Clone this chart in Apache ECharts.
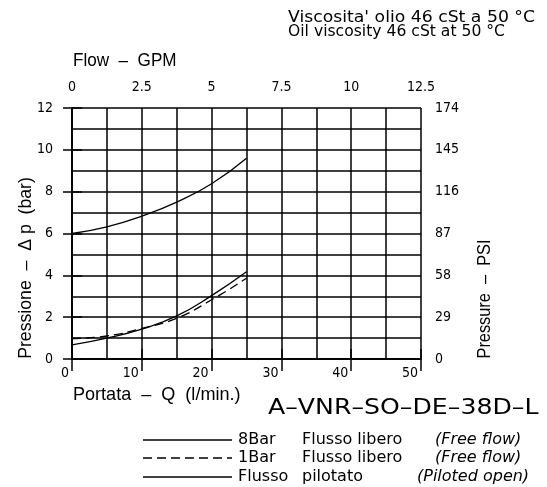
<!DOCTYPE html>
<html><head><meta charset="utf-8">
<script src="https://cdn.jsdelivr.net/npm/echarts@6/dist/echarts.min.js"></script>
<style>html,body{margin:0;padding:0;background:#fff}#c{width:547px;height:487px}</style>
</head><body><div id="c"></div>
<script>
const flowLpm = [0, 5, 10, 15, 20, 25];
const free8Bar = [6.0, 6.32, 6.83, 7.5, 8.38, 9.6];
const free1Bar = [0.98, 1.1, 1.46, 1.95, 2.83, 3.86];
const piloted = [0.68, 1.0, 1.43, 2.06, 3.03, 4.17];
const gpmTicks = [0, 2.5, 5, 7.5, 10, 12.5];
const psiTicks = [0, 29, 58, 87, 116, 145, 174];

const numFont = '"DejaVu Sans Condensed", sans-serif';
const txtFont = '"DejaVu Sans", sans-serif';
const labFont = '"Liberation Sans", sans-serif';
const pair = (xs, ys) => xs.map((x, i) => [x, ys[i]]);
const lineCol = '#000';
const chart = echarts.init(document.getElementById('c'), null, {renderer: 'canvas'});
const gridLine = {show: true, lineStyle: {color: lineCol, width: 1.5}};
const T = (o) => Object.assign({type: 'text'}, o);
chart.setOption({
  animation: false,
  backgroundColor: '#fff',
  grid: {left: 72, right: 126, top: 108, bottom: 128},
  xAxis: [
    {type: 'value', position: 'bottom', min: 0, max: 50, interval: 10,
     axisLine: {show: true, lineStyle: {color: lineCol, width: 1.5}},
     axisTick: {show: true, length: 12, lineStyle: {color: lineCol, width: 1.5}},
     splitLine: gridLine,
     minorTick: {show: false, splitNumber: 2},
     minorSplitLine: {show: true, lineStyle: {color: lineCol, width: 1.5}},
     axisLabel: {color: '#000', fontFamily: numFont, fontSize: 14, align: 'right', padding: [0, 3, 0, 0], margin: 7}},
    {type: 'value', position: 'top', min: 0, max: 12.5, interval: 2.5,
     axisLine: {show: true, lineStyle: {color: lineCol, width: 1.5}},
     axisTick: {show: true, length: 10, lineStyle: {color: lineCol, width: 1.5}},
     splitLine: {show: false},
     axisLabel: {color: '#000', fontFamily: numFont, fontSize: 14, margin: 14,
       formatter: v => gpmTicks.includes(v) ? String(v) : ''}}
  ],
  yAxis: [
    {type: 'value', position: 'left', min: 0, max: 12, interval: 2,
     axisLine: {show: true, lineStyle: {color: lineCol, width: 1.5}},
     axisTick: {show: true, length: 9, lineStyle: {color: lineCol, width: 1.5}},
     splitLine: gridLine,
     minorTick: {show: false, splitNumber: 2},
     minorSplitLine: {show: true, lineStyle: {color: lineCol, width: 1.5}},
     axisLabel: {color: '#000', fontFamily: numFont, fontSize: 14, margin: 19}},
    {type: 'value', position: 'right', min: 0, max: 174, interval: 29,
     axisLine: {show: true, lineStyle: {color: lineCol, width: 1.5}},
     axisTick: {show: true, length: 10, lineStyle: {color: lineCol, width: 1.5}},
     splitLine: {show: false},
     axisLabel: {color: '#000', fontFamily: numFont, fontSize: 14, margin: 14,
       formatter: v => psiTicks.includes(v) ? String(v) : ''}}
  ],
  series: [
    {name: '8Bar Flusso libero', type: 'line', smooth: true, symbol: 'none', xAxisIndex: 0, yAxisIndex: 0,
     data: pair(flowLpm, free8Bar), lineStyle: {color: '#000', width: 1.3}},
    {name: '1Bar Flusso libero', type: 'line', smooth: true, symbol: 'none', xAxisIndex: 0, yAxisIndex: 0,
     data: pair(flowLpm, free1Bar), lineStyle: {color: '#000', width: 1.3, type: [9, 5]}},
    {name: 'Flusso pilotato', type: 'line', smooth: true, symbol: 'none', xAxisIndex: 0, yAxisIndex: 0,
     data: pair(flowLpm, piloted), lineStyle: {color: '#000', width: 1.3}}
  ],
  graphic: [
    T({x: 288, y: 18, scaleX: 1.15, style: {text: "Viscosita' olio 46 cSt a 50 °C", font: '15px ' + txtFont, fill: '#000', verticalAlign: 'middle'}}),
    T({x: 288, y: 32, scaleX: 1.04, style: {text: 'Oil viscosity 46 cSt at 50 °C', font: '15px ' + txtFont, fill: '#000', verticalAlign: 'middle'}}),
    T({x: 73, y: 61, scaleX: 0.9, style: {text: 'Flow  –  GPM', font: '19px ' + labFont, fill: '#000', verticalAlign: 'middle'}}),
    T({x: 73, y: 395, scaleX: 0.95, style: {text: 'Portata  –  Q  (l/min.)', font: '19px ' + labFont, fill: '#000', verticalAlign: 'middle'}}),
    T({x: 268, y: 409, scaleX: 1.2, style: {text: 'A–VNR–SO–DE–38D–L', font: '21px ' + txtFont, fill: '#000', verticalAlign: 'middle'}}),
    T({x: 26, y: 268, rotation: Math.PI / 2, scaleX: 0.93, style: {text: 'Pressione  –  Δ p  (bar)', font: '19px ' + labFont, fill: '#000', align: 'center', verticalAlign: 'middle'}}),
    T({x: 485, y: 299, rotation: Math.PI / 2, scaleX: 0.86, style: {text: 'Pressure  –  PSI', font: '19px ' + labFont, fill: '#000', align: 'center', verticalAlign: 'middle'}}),
    {type: 'line', shape: {x1: 143, y1: 440, x2: 232, y2: 440}, style: {stroke: '#000', lineWidth: 1.3}},
    {type: 'line', shape: {x1: 143, y1: 458, x2: 232, y2: 458}, style: {stroke: '#000', lineWidth: 1.3, lineDash: [9, 5]}},
    {type: 'line', shape: {x1: 143, y1: 477, x2: 232, y2: 477}, style: {stroke: '#000', lineWidth: 1.3}},
    T({x: 238, y: 440, style: {text: '8Bar', font: '16px ' + txtFont, fill: '#000', verticalAlign: 'middle'}}),
    T({x: 302, y: 440, style: {text: 'Flusso libero', font: '16px ' + txtFont, fill: '#000', verticalAlign: 'middle'}}),
    T({x: 435, y: 440, style: {text: '(Free flow)', font: 'italic 16px ' + txtFont, fill: '#000', verticalAlign: 'middle'}}),
    T({x: 238, y: 458, style: {text: '1Bar', font: '16px ' + txtFont, fill: '#000', verticalAlign: 'middle'}}),
    T({x: 302, y: 458, style: {text: 'Flusso libero', font: '16px ' + txtFont, fill: '#000', verticalAlign: 'middle'}}),
    T({x: 435, y: 458, style: {text: '(Free flow)', font: 'italic 16px ' + txtFont, fill: '#000', verticalAlign: 'middle'}}),
    T({x: 238, y: 477, style: {text: 'Flusso', font: '16px ' + txtFont, fill: '#000', verticalAlign: 'middle'}}),
    T({x: 302, y: 477, style: {text: 'pilotato', font: '16px ' + txtFont, fill: '#000', verticalAlign: 'middle'}}),
    T({x: 417, y: 477, style: {text: '(Piloted open)', font: 'italic 16px ' + txtFont, fill: '#000', verticalAlign: 'middle'}})
  ]
});
</script></body></html>
